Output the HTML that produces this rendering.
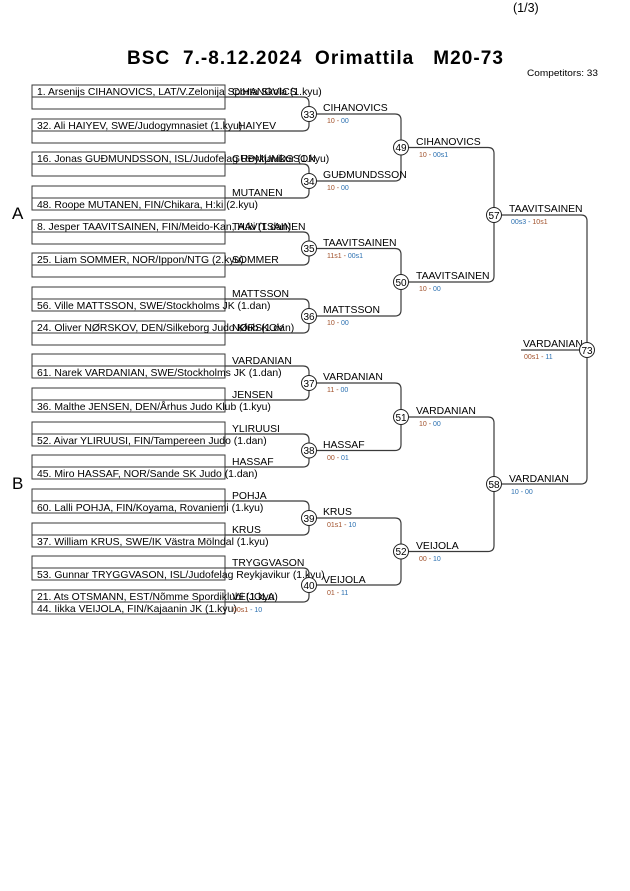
<!DOCTYPE html>
<html><head><meta charset="utf-8"><style>
html,body{margin:0;padding:0;background:#fff;}
svg{display:block;font-family:"Liberation Sans",Arial,sans-serif;}
.n{font-size:10.4px;fill:#000;}
.l{font-size:10.4px;fill:#000;}
.s{font-size:7px;}
.a{fill:#a0502a;} .b{fill:#2a6fb0;}
.ln{fill:none;stroke:#3a3a3a;stroke-width:1.2;}
.bx{fill:none;stroke:#3a3a3a;stroke-width:1;}
.c{fill:#fff;stroke:#222;stroke-width:1;}
.cn{font-size:10px;text-anchor:middle;}
</style></head><body>
<svg width="630" height="891" viewBox="0 0 630 891" xmlns="http://www.w3.org/2000/svg">
<text x="513" y="12" font-size="12.5">(1/3)</text>
<text x="127" y="64" font-size="19" font-weight="bold" textLength="376" lengthAdjust="spacing" xml:space="preserve">BSC  7.-8.12.2024  Orimattila   M20-73</text>
<text x="527" y="76" font-size="9" textLength="71" lengthAdjust="spacingAndGlyphs">Competitors: 33</text>
<text x="12" y="219" font-size="17">A</text>
<text x="12" y="489" font-size="17">B</text>

<!-- boxes -->
<g class="bx">
<rect x="32" y="85" width="193" height="24"/><line x1="32" y1="97" x2="225" y2="97"/>
<rect x="32" y="119" width="193" height="24"/><line x1="32" y1="131" x2="225" y2="131"/>
<rect x="32" y="152" width="193" height="24"/><line x1="32" y1="164" x2="225" y2="164"/>
<rect x="32" y="186" width="193" height="24"/><line x1="32" y1="198" x2="225" y2="198"/>
<rect x="32" y="220" width="193" height="24"/><line x1="32" y1="232" x2="225" y2="232"/>
<rect x="32" y="253" width="193" height="24"/><line x1="32" y1="265" x2="225" y2="265"/>
<rect x="32" y="287" width="193" height="24"/><line x1="32" y1="299" x2="225" y2="299"/>
<rect x="32" y="321" width="193" height="24"/><line x1="32" y1="333" x2="225" y2="333"/>
<rect x="32" y="354" width="193" height="24"/><line x1="32" y1="366" x2="225" y2="366"/>
<rect x="32" y="388" width="193" height="24"/><line x1="32" y1="400" x2="225" y2="400"/>
<rect x="32" y="422" width="193" height="24"/><line x1="32" y1="434" x2="225" y2="434"/>
<rect x="32" y="455" width="193" height="24"/><line x1="32" y1="467" x2="225" y2="467"/>
<rect x="32" y="489" width="193" height="24"/><line x1="32" y1="501" x2="225" y2="501"/>
<rect x="32" y="523" width="193" height="24"/><line x1="32" y1="535" x2="225" y2="535"/>
<rect x="32" y="556" width="193" height="24"/><line x1="32" y1="568" x2="225" y2="568"/>
<rect x="32" y="590" width="193" height="24"/><line x1="32" y1="602" x2="225" y2="602"/>
</g>

<!-- names -->
<g class="n">
<text x="37" y="95">1. Arsenijs CIHANOVICS, LAT/V.Zelonija Sporta Skola (1.kyu)</text>
<text x="37" y="129">32. Ali HAIYEV, SWE/Judogymnasiet (1.kyu)</text>
<text x="37" y="162">16. Jonas GUÐMUNDSSON, ISL/Judofelag Reykjavikur (1.kyu)</text>
<text x="37" y="208">48. Roope MUTANEN, FIN/Chikara, H:ki (2.kyu)</text>
<text x="37" y="230">8. Jesper TAAVITSAINEN, FIN/Meido-Kan, H:ki (1.dan)</text>
<text x="37" y="263">25. Liam SOMMER, NOR/Ippon/NTG (2.kyu)</text>
<text x="37" y="309">56. Ville MATTSSON, SWE/Stockholms JK (1.dan)</text>
<text x="37" y="331">24. Oliver NØRSKOV, DEN/Silkeborg Judo Klub (1.dan)</text>
<text x="37" y="376">61. Narek VARDANIAN, SWE/Stockholms JK (1.dan)</text>
<text x="37" y="410">36. Malthe JENSEN, DEN/Århus Judo Klub (1.kyu)</text>
<text x="37" y="444">52. Aivar YLIRUUSI, FIN/Tampereen Judo (1.dan)</text>
<text x="37" y="477">45. Miro HASSAF, NOR/Sande SK Judo (1.dan)</text>
<text x="37" y="511">60. Lalli POHJA, FIN/Koyama, Rovaniemi (1.kyu)</text>
<text x="37" y="545">37. William KRUS, SWE/IK Västra Mölndal (1.kyu)</text>
<text x="37" y="578">53. Gunnar TRYGGVASON, ISL/Judofelag Reykjavikur (1.kyu)</text>
<text x="37" y="600">21. Ats OTSMANN, EST/Nõmme Spordiklubi (1.kyu)</text>
<text x="37" y="612">44. Iikka VEIJOLA, FIN/Kajaanin JK (1.kyu)</text>
</g>

<!-- surname labels -->
<g class="l">
<text x="232" y="95">CIHANOVICS</text>
<text x="238" y="129">HAIYEV</text>
<text x="232" y="162">GUÐMUNDSSON</text>
<text x="232" y="196">MUTANEN</text>
<text x="232" y="230">TAAVITSAINEN</text>
<text x="232" y="263">SOMMER</text>
<text x="232" y="297">MATTSSON</text>
<text x="232" y="331">NØRSKOV</text>
<text x="232" y="364">VARDANIAN</text>
<text x="232" y="398">JENSEN</text>
<text x="232" y="432">YLIRUUSI</text>
<text x="232" y="465">HASSAF</text>
<text x="232" y="499">POHJA</text>
<text x="232" y="533">KRUS</text>
<text x="232" y="566">TRYGGVASON</text>
<text x="232" y="600">VEIJOLA</text>
</g>
<text x="233" y="612" class="s"><tspan class="a">00s1</tspan><tspan class="b"> - 10</tspan></text>

<!-- connectors -->
<g class="ln">
<path d="M225 97 H303 Q309 97 309 103 V125 Q309 131 303 131 H225"/>
<path d="M225 164 H303 Q309 164 309 170 V192 Q309 198 303 198 H225"/>
<path d="M225 232 H303 Q309 232 309 238 V259 Q309 265 303 265 H225"/>
<path d="M225 299 H303 Q309 299 309 305 V327 Q309 333 303 333 H225"/>
<path d="M225 366 H303 Q309 366 309 372 V394 Q309 400 303 400 H225"/>
<path d="M225 434 H303 Q309 434 309 440 V461 Q309 467 303 467 H225"/>
<path d="M225 501 H303 Q309 501 309 507 V529 Q309 535 303 535 H225"/>
<path d="M225 568 H303 Q309 568 309 574 V596 Q309 602 303 602 H225"/>
<path d="M309 114 H395 Q401 114 401 120 V175 Q401 181 395 181 H309"/>
<path d="M309 248.5 H395 Q401 248.5 401 254.5 V310 Q401 316 395 316 H309"/>
<path d="M309 383 H395 Q401 383 401 389 V444.5 Q401 450.5 395 450.5 H309"/>
<path d="M309 518 H395 Q401 518 401 524 V579 Q401 585 395 585 H309"/>
<path d="M401 147.5 H488 Q494 147.5 494 153.5 V276 Q494 282 488 282 H401"/>
<path d="M401 417 H488 Q494 417 494 423 V545.5 Q494 551.5 488 551.5 H401"/>
<path d="M494 215 H581 Q587 215 587 221 V478 Q587 484 581 484 H494"/>
<path d="M521 350 H587"/>
</g>

<!-- winner labels -->
<g class="l">
<text x="323" y="111">CIHANOVICS</text>
<text x="323" y="178">GUÐMUNDSSON</text>
<text x="323" y="246">TAAVITSAINEN</text>
<text x="323" y="313">MATTSSON</text>
<text x="323" y="380">VARDANIAN</text>
<text x="323" y="448">HASSAF</text>
<text x="323" y="515">KRUS</text>
<text x="323" y="583">VEIJOLA</text>
<text x="416" y="145">CIHANOVICS</text>
<text x="416" y="279">TAAVITSAINEN</text>
<text x="416" y="414">VARDANIAN</text>
<text x="416" y="549">VEIJOLA</text>
<text x="509" y="212">TAAVITSAINEN</text>
<text x="509" y="482">VARDANIAN</text>
<text x="523" y="347">VARDANIAN</text>
</g>
<g class="s">
<text x="327" y="123"><tspan class="a">10 - </tspan><tspan class="b">00</tspan></text>
<text x="327" y="190"><tspan class="a">10 - </tspan><tspan class="b">00</tspan></text>
<text x="327" y="258"><tspan class="a">11s1 - </tspan><tspan class="b">00s1</tspan></text>
<text x="327" y="325"><tspan class="a">10 - </tspan><tspan class="b">00</tspan></text>
<text x="327" y="392"><tspan class="a">11 - </tspan><tspan class="b">00</tspan></text>
<text x="327" y="460"><tspan class="a">00 - </tspan><tspan class="b">01</tspan></text>
<text x="327" y="527"><tspan class="a">01s1 - </tspan><tspan class="b">10</tspan></text>
<text x="327" y="595"><tspan class="a">01 - </tspan><tspan class="b">11</tspan></text>
<text x="419" y="157"><tspan class="a">10 - </tspan><tspan class="b">00s1</tspan></text>
<text x="419" y="291"><tspan class="a">10 - </tspan><tspan class="b">00</tspan></text>
<text x="419" y="426"><tspan class="a">10 - </tspan><tspan class="b">00</tspan></text>
<text x="419" y="561"><tspan class="a">00 - </tspan><tspan class="b">10</tspan></text>
<text x="511" y="224"><tspan class="b">00s3 - </tspan><tspan class="a">10s1</tspan></text>
<text x="511" y="494"><tspan class="b">10 - 00</tspan></text>
<text x="524" y="359"><tspan class="a">00s1 - </tspan><tspan class="b">11</tspan></text>
</g>

<!-- nodes -->
<g>
<circle class="c" cx="309" cy="114" r="7.5"/><text class="cn" x="309" y="118">33</text>
<circle class="c" cx="309" cy="181" r="7.5"/><text class="cn" x="309" y="185">34</text>
<circle class="c" cx="309" cy="248.5" r="7.5"/><text class="cn" x="309" y="252">35</text>
<circle class="c" cx="309" cy="316" r="7.5"/><text class="cn" x="309" y="320">36</text>
<circle class="c" cx="309" cy="383" r="7.5"/><text class="cn" x="309" y="387">37</text>
<circle class="c" cx="309" cy="450.5" r="7.5"/><text class="cn" x="309" y="454">38</text>
<circle class="c" cx="309" cy="518" r="7.5"/><text class="cn" x="309" y="522">39</text>
<circle class="c" cx="309" cy="585" r="7.5"/><text class="cn" x="309" y="589">40</text>
<circle class="c" cx="401" cy="147.5" r="7.5"/><text class="cn" x="401" y="151">49</text>
<circle class="c" cx="401" cy="282" r="7.5"/><text class="cn" x="401" y="286">50</text>
<circle class="c" cx="401" cy="417" r="7.5"/><text class="cn" x="401" y="421">51</text>
<circle class="c" cx="401" cy="551.5" r="7.5"/><text class="cn" x="401" y="555">52</text>
<circle class="c" cx="494" cy="215" r="7.5"/><text class="cn" x="494" y="219">57</text>
<circle class="c" cx="494" cy="484" r="7.5"/><text class="cn" x="494" y="488">58</text>
<circle class="c" cx="587" cy="350" r="7.5"/><text class="cn" x="587" y="354">73</text>
</g>
</svg>
</body></html>
